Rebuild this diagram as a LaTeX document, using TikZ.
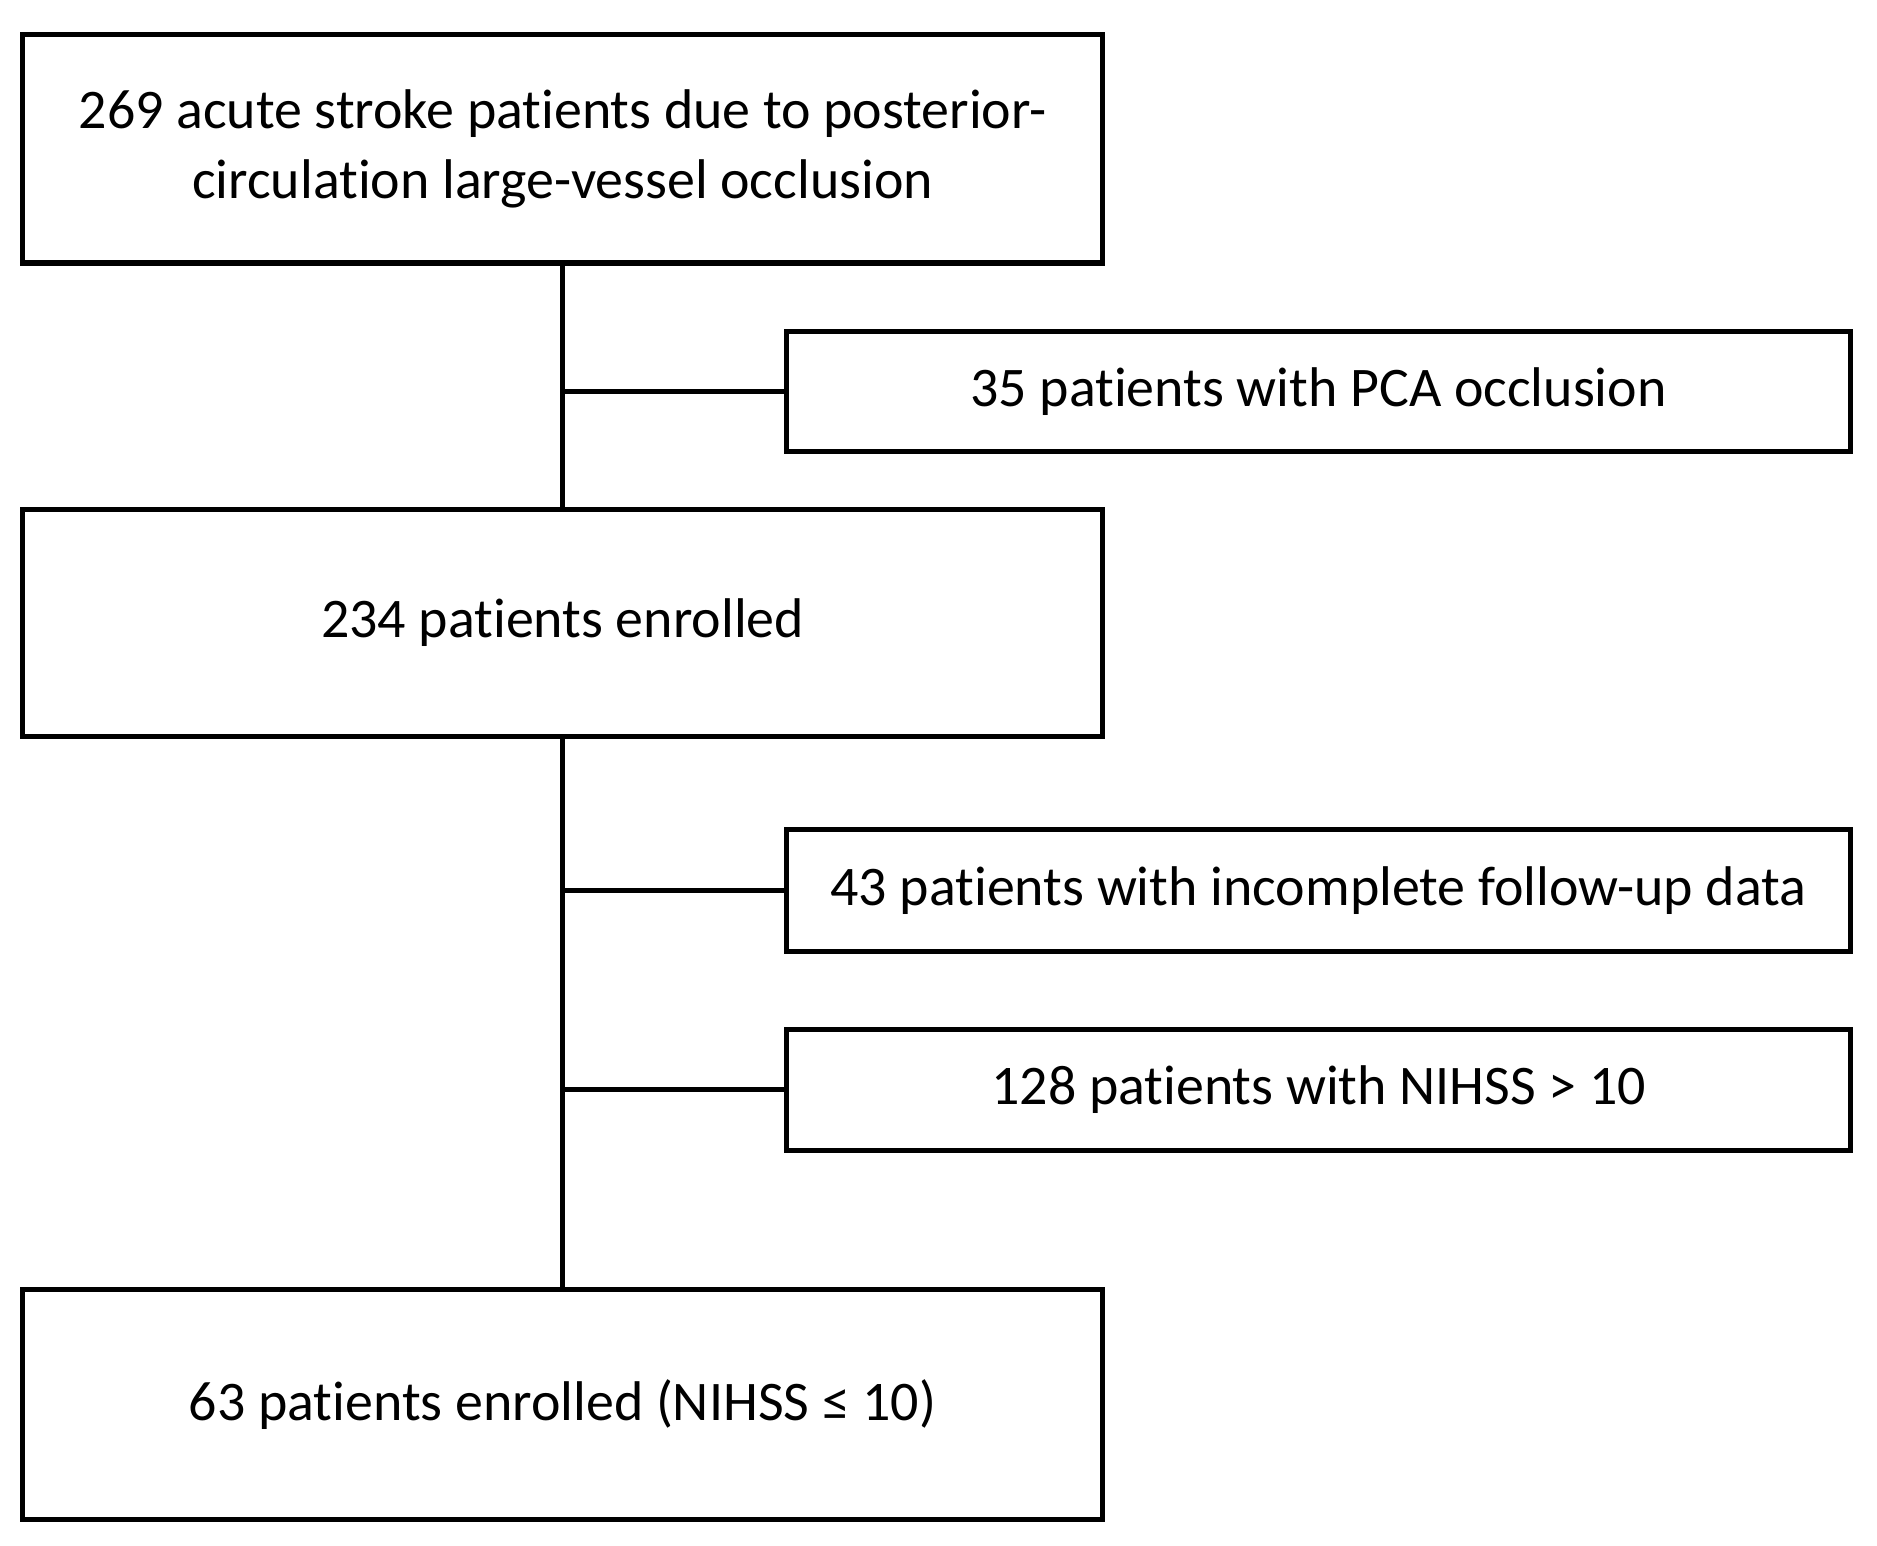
\documentclass[tikz,border=0pt]{standalone}
\usepackage{fontspec}
\setmainfont{Carlito}[Ligatures={NoCommon}]
\begin{document}
\begin{tikzpicture}[x=0.02cm,y=-0.02cm,
  box/.style={draw=black,line width=2.4pt,inner sep=0pt,align=center,font=\fontsize{26.5}{33}\selectfont},
  ln/.style={line width=2.4pt}]
\useasboundingbox (0,0) rectangle (1563,1287);
\node[box,minimum width=899*0.02cm,minimum height=190*0.02cm] (a) at (468.5,124) {269 acute stroke patients due to posterior-\\circulation large-vessel occlusion};
\node[box,minimum width=886*0.02cm,minimum height=100*0.02cm] (b) at (1098,326) {35 patients with PCA occlusion};
\node[box,minimum width=899*0.02cm,minimum height=189*0.02cm] (c) at (468.5,518.5) {234 patients enrolled};
\node[box,minimum width=886*0.02cm,minimum height=101*0.02cm] (d) at (1098,741.5) {43 patients with incomplete follow-up data};
\node[box,minimum width=886*0.02cm,minimum height=101*0.02cm] (e) at (1098,907.5) {128 patients with NIHSS > 10};
\node[box,minimum width=899*0.02cm,minimum height=191*0.02cm] (f) at (468.5,1169.5) {63 patients enrolled (NIHSS ≤ 10)};
\draw[ln] (a.south) -- (c.north);
\draw[ln] (c.south) -- (f.north);
\draw[ln] (b.west) -- (b.west -| a.south);
\draw[ln] (d.west) -- (d.west -| c.south);
\draw[ln] (e.west) -- (e.west -| c.south);
\end{tikzpicture}
\end{document}
